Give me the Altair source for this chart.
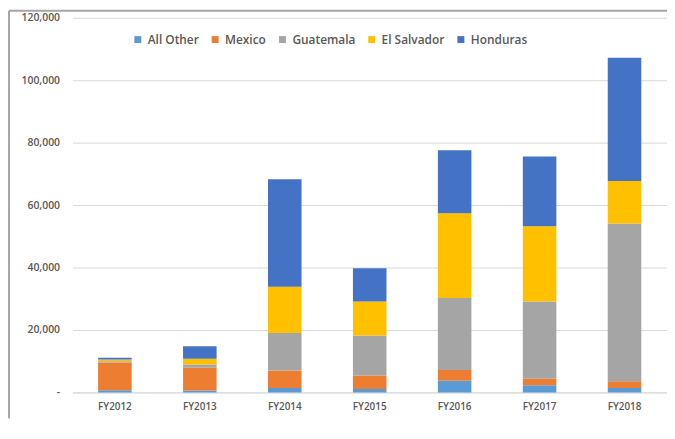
import altair as alt
import pandas as pd

years = ["FY2012", "FY2013", "FY2014", "FY2015", "FY2016", "FY2017", "FY2018"]
series = ["All Other", "Mexico", "Guatemala", "El Salvador", "Honduras"]
colors = ["#5B9BD5", "#ED7D31", "#A5A5A5", "#FFC000", "#4472C4"]

all_other = [650, 600, 1400, 1100, 3700, 2300, 1400]
mexico = [8900, 7250, 5600, 4300, 3450, 2100, 2200]
guatemala = [400, 1050, 12000, 12850, 23100, 24700, 50500]
el_salvador = [550, 1900, 14800, 10850, 27150, 24150, 13650]
honduras = [600, 3950, 34450, 10650, 20150, 22350, 39450]

y_ticks = [0, 20000, 40000, 60000, 80000, 100000, 120000]

values = [all_other, mexico, guatemala, el_salvador, honduras]
rows = []
for si, (name, vals) in enumerate(zip(series, values)):
    for yr, v in zip(years, vals):
        rows.append({"year": yr, "series": name, "value": v, "order": si})
df = pd.DataFrame(rows)

font = "Open Sans"
label_color = "#595959"

bars = alt.Chart(df).mark_bar().encode(
    x=alt.X("year:N", sort=years,
            scale=alt.Scale(paddingInner=0.605, paddingOuter=0.3025),
            axis=alt.Axis(title=None, labelAngle=0, ticks=False, domain=True,
                          domainColor="#D9D9D9", labelPadding=9,
                          labelFontSize=10, labelColor=label_color,
                          labelFont=font, labelFontWeight=600)),
    y=alt.Y("value:Q", stack="zero",
            scale=alt.Scale(domain=[0, 120000], nice=False),
            axis=alt.Axis(title=None, values=y_ticks, grid=True,
                          gridColor="#D9D9D9", domain=False, ticks=False,
                          labelPadding=13, labelFontSize=10.5,
                          labelColor=label_color, labelFont=font,
                          labelFontWeight=600,
                          labelExpr="datum.value == 0 ? '-\u00a0\u00a0\u00a0' : format(datum.value, ',')")),
    color=alt.Color("series:N",
                    scale=alt.Scale(domain=series, range=colors),
                    legend=alt.Legend(title=None, orient="none", legendX=60,
                                      legendY=16, direction="horizontal",
                                      symbolType="square", symbolSize=49,
                                      symbolStrokeWidth=0, labelFontSize=12,
                                      labelFont=font, labelColor=label_color,
                                      labelFontWeight=600,
                                      columnPadding=10, labelOffset=4)),
    order=alt.Order("order:Q", sort="ascending"),
)

frame_df = pd.DataFrame({"k": [0]})
top_line = alt.Chart(frame_df).mark_rule(color="#A6A6A6", strokeWidth=2).encode(
    x=alt.value(-64), x2=alt.value(600), y=alt.value(-7), y2=alt.value(-7)
)
left_line = alt.Chart(frame_df).mark_rule(color="#A6A6A6", strokeWidth=2).encode(
    x=alt.value(-64), x2=alt.value(-64), y=alt.value(-7), y2=alt.value(404)
)

chart = alt.layer(bars, top_line, left_line).properties(
    width=600, height=378,
    autosize=alt.AutoSizeParams(type="none"),
    padding={"left": 65, "top": 8, "right": 0, "bottom": 26},
).configure_view(stroke=None)

chart.save("out.html", embed_options={"renderer": "svg", "actions": False})
